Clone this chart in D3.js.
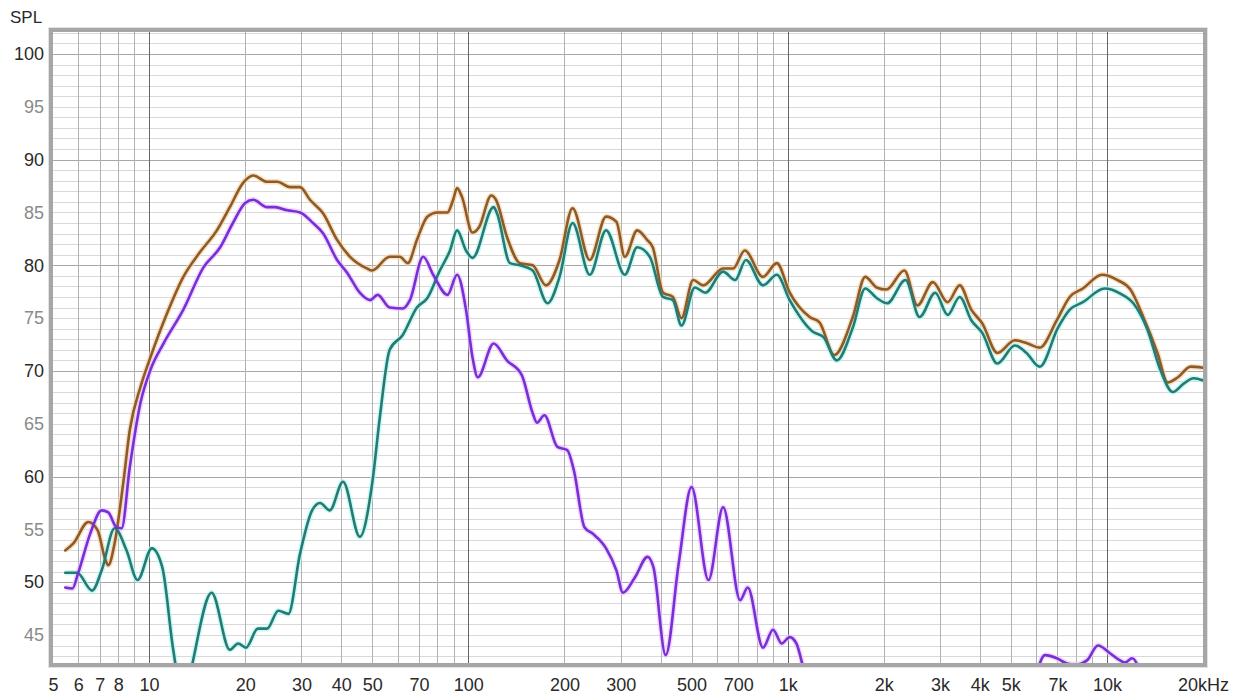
<!DOCTYPE html>
<html>
<head>
<meta charset="utf-8">
<script src="https://cdn.jsdelivr.net/npm/d3@7"></script>
<style>
  html, body { margin: 0; padding: 0; background: #ffffff; }
  svg { display: block; }
  text { font-family: "Liberation Sans", Arial, sans-serif; }
</style>
</head>
<body>
<svg id="chart" width="1240" height="696"></svg>
<script>
// ---------- data ----------
const xTickValues = [5,6,7,8,10,20,30,40,50,70,100,200,300,500,700,1000,2000,3000,4000,5000,7000,10000,20000];
const xTickLabels = ["5","6","7","8","10","20","30","40","50","70","100","200","300","500","700","1k","2k","3k","4k","5k","7k","10k","20kHz"];
const yTickValues = [45,50,55,60,65,70,75,80,85,90,95,100];
const yTickLabels = ["45","50","55","60","65","70","75","80","85","90","95","100"];

const brownFreq = [5.46,5.8,6.45,6.9,7.3,7.45,7.8,8.3,8.7,9.4,10.1,11.4,12.8,14.4,16.3,17.9,19.7,21.2,23.4,25.2,27.6,29.7,31.9,35.1,38.8,42.6,48.1,49.9,56.7,61,64.6,69,74.4,80,86,89.6,92.2,95.4,103,108,118,122,132,145,159,175,193,212,240,270,291,309,338,363,378,407,437,465,506,544,628,675,734,837,925,1015,1172,1258,1400,1600,1750,1900,2040,2320,2550,2850,3170,3460,3760,4070,4540,5150,5650,6160,6970,7650,8410,9650,10800,11850,13000,14400,15500,16700,18300,20000];
const brownDb   = [53.0,53.7,55.7,54.9,52.1,51.6,53.7,59.4,64.4,68.5,71.3,75.5,78.9,81.2,83.3,85.5,87.8,88.5,87.9,87.9,87.4,87.4,86.2,84.9,82.4,80.8,79.7,79.5,80.8,80.8,80.2,82.4,84.6,85.0,85.0,86.2,87.3,86.5,83.1,83.6,86.6,86.2,82.7,80.2,80.0,78.1,80.5,85.4,80.5,84.6,84.1,80.8,83.3,82.4,81.7,77.4,77.0,75.0,78.6,78.1,79.7,79.7,81.4,78.9,80.2,77.4,75.1,74.6,71.5,75.1,78.9,77.9,77.7,79.5,76.2,78.4,76.5,78.1,75.8,74.5,71.7,72.9,72.6,72.2,74.8,77.0,77.8,79.1,78.6,77.7,75.1,71.7,68.9,69.4,70.4,70.3];

const tealFreq = [5.46,5.95,6.63,7.1,7.8,8.5,9.2,10.2,11.0,11.9,12.85,13.6,15.7,17.9,19,20.1,21.9,23.4,25.4,27.3,29.7,32.4,34.3,36.8,40.5,45.7,50,52.8,56.7,62.3,69,74.4,81.4,87.6,92.2,98.3,103,120,123,135,145,159,177,193,212,240,270,309,338,370,407,437,465,512,552,628,685,740,837,925,1015,1200,1295,1425,1600,1750,1900,2050,2340,2590,2900,3170,3460,3760,4070,4540,5150,5600,6160,7030,7650,8410,9830,11050,12100,13400,14700,16100,17400,18700,20000];
const tealDb   = [50.9,50.9,49.2,51.1,55.1,53.0,50.2,53.2,51.4,43.6,38.5,42.0,49.0,43.6,44.2,43.8,45.6,45.6,47.3,47.0,52.7,56.8,57.5,56.8,59.5,54.3,59.4,65.6,72.0,73.4,76.0,76.9,79.5,81.4,83.3,81.4,80.7,85.5,84.9,80.2,80.0,79.5,76.4,78.9,84.0,79.1,83.3,79.1,81.7,80.8,77.0,76.7,74.3,77.9,77.4,79.4,78.6,80.5,78.1,79.1,76.7,73.7,73.2,71.0,74.1,77.8,76.9,76.4,78.6,75.1,77.4,75.3,77.0,74.8,73.6,70.7,72.4,71.7,70.4,74.1,75.8,76.5,77.8,77.3,76.4,73.9,70.1,68.0,68.8,69.3,69.1];

const purpleFreq = [5.46,5.75,6.0,6.54,7.1,7.45,7.9,8.2,8.7,9.4,10.1,11.1,12.8,14.8,16.7,18.3,20,21.2,23.4,24.8,27.1,29.7,32.6,35.1,38.8,41.7,45.7,49.2,52,56.7,62.3,65.6,72.2,77.6,86,92.2,98.3,103,107,120,132,147,159,164,173,190,204,214,231,245,270,291,305,333,364,380,415,456,500,565,628,710,750,837,900,958,1015,1065,1115,1200,3000,5800,6400,6970,7500,8000,8660,9380,10200,11000,11400,12000,12700,13500];
const purpleDb   = [49.5,49.4,50.9,54.6,56.8,56.6,55.2,55.1,60.9,67.0,70.1,72.6,75.8,79.8,81.7,84.0,85.9,86.2,85.5,85.5,85.2,85.0,84.0,83.0,80.5,79.3,77.4,76.7,77.2,76.0,75.9,76.7,80.8,79.1,77.2,79.1,75.8,71.3,69.4,72.6,71.0,69.6,66.0,65.1,65.8,62.8,62.5,60.6,55.2,54.6,53.2,51.1,49.0,50.5,52.4,51.4,43.1,51.8,59.0,50.2,57.1,48.3,49.5,43.8,45.5,44.2,44.8,44.2,42.1,38.0,null,39.0,43.1,42.8,42.3,42.2,42.6,44.0,43.3,42.6,42.4,42.8,41.5,38.0];

const seriesNames = ["brown","teal","purple"];

// ---------- layout ----------
const svg = d3.select("#chart");
const pL = 53, pR = 1203, pT = 32, pB = 663;

const x = d3.scaleLog().domain([5, 20000]).range([pL, pR]);
const y = d3.scaleLinear().domain([42.35, 102.08]).range([pB, pT]);

svg.append("rect").attr("x", pL).attr("y", pT)
  .attr("width", pR - pL).attr("height", pB - pT).attr("fill", "#ffffff");

// grid
const grid = svg.append("g");
const hLines = d3.range(43, 103, 1);
grid.selectAll("line.h").data(hLines).enter().append("line")
  .attr("x1", pL).attr("x2", pR)
  .attr("y1", d => Math.round(y(d)) + 0.5).attr("y2", d => Math.round(y(d)) + 0.5)
  .attr("stroke", d => d % 10 === 0 ? "#a8a8a8" : "#d9d9d9")
  .attr("stroke-width", 1);

const vLines = [];
[1,10,100,1000,10000].forEach(dec => {
  for (let m = 1; m <= 9; m++) {
    const f = dec * m;
    if (f > 5 && f < 20000) vLines.push(f);
  }
});
grid.selectAll("line.v").data(vLines).enter().append("line")
  .attr("y1", pT).attr("y2", pB)
  .attr("x1", d => Math.round(x(d)) + 0.5).attr("x2", d => Math.round(x(d)) + 0.5)
  .attr("stroke", d => [10,100,1000,10000].includes(d) ? "#666666" : "#b2b2b2")
  .attr("stroke-width", 1);

svg.append("clipPath").attr("id", "plotClip").append("rect")
  .attr("x", pL).attr("y", pT).attr("width", pR - pL).attr("height", pB - pT);

function toPoints(fr, db) { return fr.map((f, i) => ({ f: f, v: db[i] })); }
const series = {
  brown:  { pts: toPoints(brownFreq, brownDb),   color: "#8e5a27", halo: "#f3d3a8" },
  teal:   { pts: toPoints(tealFreq, tealDb),     color: "#2b7772", halo: "#a8fbf2" },
  purple: { pts: toPoints(purpleFreq, purpleDb), color: "#7630d4", halo: "#ecc6ff" }
};

const line = d3.line()
  .defined(d => d.v !== null)
  .x(d => x(d.f)).y(d => y(d.v))
  .curve(d3.curveMonotoneX);

const curves = svg.append("g").attr("clip-path", "url(#plotClip)");
seriesNames.forEach(name => {
  const s = series[name];
  curves.append("path").datum(s.pts).attr("d", line)
    .attr("fill", "none").attr("stroke", s.halo).attr("stroke-width", 5.5)
    .attr("stroke-opacity", 0.7).attr("stroke-linejoin", "round");
});
seriesNames.forEach(name => {
  const s = series[name];
  curves.append("path").datum(s.pts).attr("d", line)
    .attr("fill", "none").attr("stroke", s.color).attr("stroke-width", 2.6)
    .attr("stroke-linejoin", "round").attr("stroke-linecap", "round");
});

// frame
svg.append("rect").attr("x", pL - 2).attr("y", pT - 2)
  .attr("width", pR - pL + 4).attr("height", pB - pT + 4)
  .attr("fill", "none").attr("stroke", "#a6a6a6").attr("stroke-width", 4);
svg.append("rect").attr("x", pL - 4.5).attr("y", pT - 4.5)
  .attr("width", pR - pL + 9).attr("height", pB - pT + 9)
  .attr("fill", "none").attr("stroke", "#e2e2e2").attr("stroke-width", 1);

// axes
const xAxis = d3.axisBottom(x).tickValues(xTickValues)
  .tickFormat((d, i) => xTickLabels[i]).tickSize(0).tickPadding(15);
const gx = svg.append("g").attr("transform", `translate(0,${pB})`).call(xAxis);
gx.select(".domain").remove();
gx.selectAll("text").attr("font-size", 18).attr("fill", "#2a2a2a")
  .style("font-family", '"Liberation Sans", Arial, sans-serif');

const yAxis = d3.axisLeft(y).tickValues(yTickValues)
  .tickFormat((d, i) => yTickLabels[i]).tickSize(0).tickPadding(9);
const gy = svg.append("g").attr("transform", `translate(${pL},0)`).call(yAxis);
gy.select(".domain").remove();
gy.selectAll("text").attr("font-size", 18)
  .attr("fill", d => d % 10 === 0 ? "#2a2a2a" : "#8a8a8a")
  .style("font-family", '"Liberation Sans", Arial, sans-serif');

svg.append("text").attr("x", 10).attr("y", 23).attr("font-size", 17)
  .attr("fill", "#2a2a2a").text("SPL");
</script>
</body>
</html>
